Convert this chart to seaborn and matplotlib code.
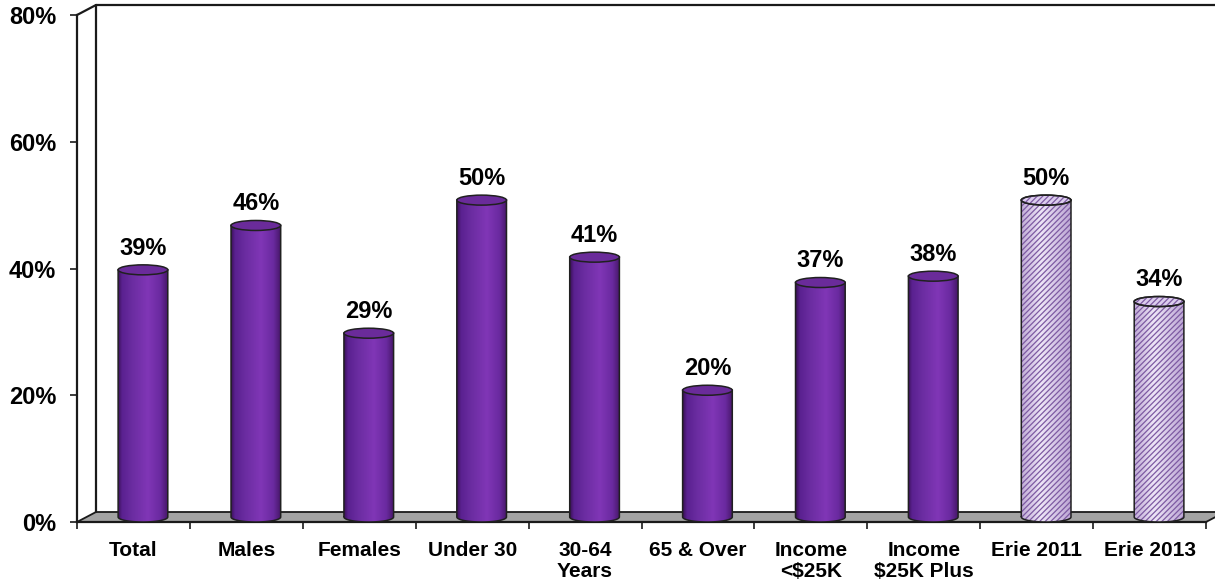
import numpy as np
import pandas as pd
import matplotlib
matplotlib.use("Agg")
import matplotlib.pyplot as plt
import seaborn as sns
from matplotlib.patches import PathPatch, Ellipse, Polygon
from matplotlib.path import Path
from matplotlib.colors import LinearSegmentedColormap
import matplotlib.transforms as mtransforms
from matplotlib.lines import Line2D

categories = ["Total", "Males", "Females", "Under 30", "30-64\nYears", "65 & Over",
              "Income\n<$25K", "Income\n$25K Plus", "Erie 2011", "Erie 2013"]
values = [39, 46, 29, 50, 41, 20, 37, 38, 50, 34]
is_erie = [False] * 8 + [True] * 2
yticks = [0, 20, 40, 60, 80]
ytick_labels = ["0%", "20%", "40%", "60%", "80%"]

sns.set_theme(style="white")
plt.rcParams['font.family'] = ['Liberation Sans', 'DejaVu Sans']
plt.rcParams['hatch.linewidth'] = 0.9

W, H = 1215, 585
fig = plt.figure(figsize=(W / 100, H / 100), dpi=100)
left, right, bottom_px, top_px = 77, 1206, 522, 15
ax = fig.add_axes([left / W, (H - bottom_px) / H, (right - left) / W, (bottom_px - top_px) / H])

df = pd.DataFrame({"cat": categories, "val": values})
sns.barplot(data=df, x="cat", y="val", width=0.44, ax=ax, color="#7030a0", saturation=1)

ax.set_xlim(-0.5, 9.5)
ax.set_ylim(0, 80)
pxx = (right - left) / 10
pxy = (bottom_px - top_px) / 80
depth_dx, depth_dy = 19, 10
ddx, ddy = depth_dx / pxx, depth_dy / pxy
mid = mtransforms.offset_copy(ax.transData, fig=fig, x=depth_dx / 2, y=depth_dy / 2, units='dots')

wall_col = "#1a1a1a"
# floor
floor = Polygon([(-0.5, 0), (9.5, 0), (9.5 + ddx, ddy), (-0.5 + ddx, ddy)], closed=True,
                facecolor="#a3a3a3", edgecolor=wall_col, lw=1.3, clip_on=False, zorder=1)
ax.add_patch(floor)
# walls
for xs, ys in [([-0.5 + ddx, -0.5 + ddx], [ddy, 80 + ddy]),
               ([-0.5, -0.5 + ddx], [80, 80 + ddy]),
               ([-0.5 + ddx, 10.5], [80 + ddy, 80 + ddy])]:
    ax.add_line(Line2D(xs, ys, color=wall_col, lw=1.6, clip_on=False, zorder=1))

purple_cmap = LinearSegmentedColormap.from_list(
    "p", [(0, "#3a1058"), (0.08, "#5a2190"), (0.3, "#6c2da2"), (0.6, "#8036b6"),
          (0.85, "#6a2aa0"), (1, "#461668")])
erie_cmap = LinearSegmentedColormap.from_list(
    "e", [(0, "#c0abd6"), (0.4, "#eee6f7"), (1, "#bca6d4")])
grad = np.linspace(0, 1, 256).reshape(1, -1)

eh = 10 / pxy
edge_col = "#202020"
bars = list(ax.patches)
for p, v, erie in zip(bars, values, is_erie):
    x0, w = p.get_x(), p.get_width()
    p.set_visible(False)
    cx = x0 + w / 2
    x1 = x0 + w
    t = np.linspace(np.pi, 2 * np.pi, 60)
    arc = np.column_stack([cx + w / 2 * np.cos(t), eh / 2 * np.sin(t)])
    verts = np.vstack([[x0, v], [x0, 0], arc, [x1, 0], [x1, v], [x0, v]])
    path = Path(verts, closed=True)
    body = PathPatch(path, facecolor="none", edgecolor="none", transform=mid, zorder=3)
    ax.add_patch(body)
    im = ax.imshow(grad, cmap=erie_cmap if erie else purple_cmap, aspect="auto",
                   extent=(x0, x1, -eh / 2, v), transform=mid, zorder=3, interpolation="bilinear")
    im.set_clip_path(body)
    if erie:
        ax.add_patch(PathPatch(path, facecolor="none", edgecolor="#7d5aa2", hatch="//////",
                               lw=0, transform=mid, zorder=4))
    ax.add_patch(PathPatch(path, facecolor="none", edgecolor=edge_col, lw=1.1,
                           transform=mid, zorder=5))
    top = Ellipse((cx, v), w, eh, facecolor="#dccdee" if erie else "#6a2b9a",
                  edgecolor=edge_col, lw=1.1, transform=mid, zorder=6)
    ax.add_patch(top)
    if erie:
        ax.add_patch(Ellipse((cx, v), w, eh, facecolor="none", edgecolor="#7d5aa2", hatch="//////",
                             lw=0, transform=mid, zorder=6))
        ax.add_patch(Ellipse((cx, v), w, eh, facecolor="none", edgecolor=edge_col, lw=1.1,
                             transform=mid, zorder=6))
    ax.annotate(f"{v}%", xy=(cx, v), xycoords=mid, xytext=(0, 11), textcoords="offset points",
                ha="center", va="baseline", fontsize=17, fontweight="bold", color="black",
                zorder=7)

ax.set_xlim(-0.5, 9.5)
ax.set_ylim(0, 80)
ax.set_xlabel("")
ax.set_ylabel("")
ax.set_xticks(np.arange(-0.5, 10, 1))
ax.set_xticklabels([])
ax.set_xticks(np.arange(10), minor=True)
ax.set_xticklabels(categories, minor=True, fontsize=15, fontweight="bold", color="black",
                   linespacing=1.1)
ax.tick_params(axis="x", which="major", length=5, width=1.2, direction="out", color=wall_col, bottom=True)
ax.tick_params(axis="x", which="minor", length=0, pad=14)
ax.set_yticks(yticks)
ax.set_yticklabels(ytick_labels, fontsize=17, fontweight="bold", color="black")
ax.tick_params(axis="y", length=5, width=1.2, direction="out", color=wall_col, left=True, pad=10)

for s in ["top", "right"]:
    ax.spines[s].set_visible(False)
for s in ["left", "bottom"]:
    ax.spines[s].set_visible(True)
    ax.spines[s].set_color(wall_col)
    ax.spines[s].set_linewidth(1.6)
    ax.spines[s].set_zorder(2)
ax.set_facecolor("none")
ax.grid(False)

fig.savefig("out.png", dpi=100)
